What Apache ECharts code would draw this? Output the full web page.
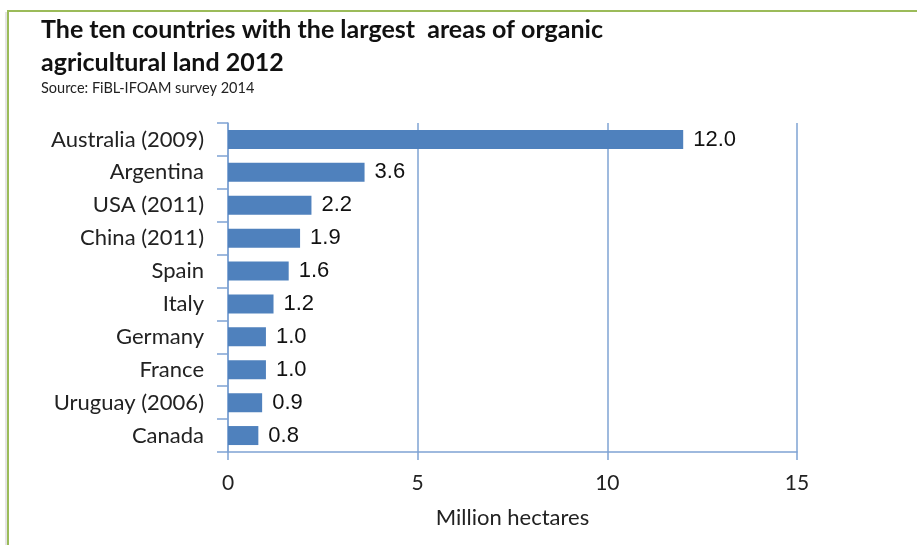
<!DOCTYPE html>
<html>
<head>
<meta charset="utf-8">
<script src="https://cdn.jsdelivr.net/npm/echarts@6/dist/echarts.min.js"></script>
<style>
html,body{margin:0;padding:0;background:#fff;}
#chart{width:917px;height:545px;}
</style>
</head>
<body>
<div id="chart"></div>
<script>
const categories = ["Australia (2009)", "Argentina", "USA (2011)", "China (2011)", "Spain", "Italy", "Germany", "France", "Uruguay (2006)", "Canada"];
const values = [12.0, 3.6, 2.2, 1.9, 1.6, 1.2, 1.0, 1.0, 0.9, 0.8];
const xTicks = [0, 5, 10, 15];
const titleText = "The ten countries with the largest  areas of organic\nagricultural land 2012";
const subText = "Source: FiBL-IFOAM survey 2014";
const axisName = "Million hectares";

const axisBlue = '#7fa3d3';
const chart = echarts.init(document.getElementById('chart'));
chart.setOption({
  animation: false,
  backgroundColor: '#fff',
  title: {
    text: titleText,
    subtext: subText,
    left: 36,
    top: 8,
    itemGap: 2,
    textStyle: { fontFamily: 'Lato', fontWeight: 'bold', fontSize: 25, color: '#111', lineHeight: 33 },
    subtextStyle: { fontFamily: 'Lato', fontSize: 14.5, color: '#222' }
  },
  graphic: [
    { type: 'line', shape: { x1: 7, y1: 11, x2: 917, y2: 11 }, style: { stroke: '#9bbb59', lineWidth: 2 } },
    { type: 'line', shape: { x1: 8, y1: 11, x2: 8, y2: 545 }, style: { stroke: '#9bbb59', lineWidth: 2 } },
    { type: 'line', shape: { x1: 6, y1: 12, x2: 6, y2: 545 }, style: { stroke: '#c8c8c8', lineWidth: 1 } }
  ],
  grid: { left: 228, right: 120, top: 123, bottom: 93, containLabel: false },
  xAxis: {
    type: 'value',
    min: xTicks[0],
    max: xTicks[xTicks.length - 1],
    interval: xTicks[1] - xTicks[0],
    name: axisName,
    nameLocation: 'middle',
    nameGap: 55,
    nameTextStyle: { fontFamily: 'Lato', fontSize: 22, color: '#222' },
    axisLine: { show: true, lineStyle: { color: axisBlue, width: 1.5 } },
    axisTick: { show: true, length: 8, lineStyle: { color: axisBlue, width: 1.5 } },
    axisLabel: { fontFamily: 'Lato', fontSize: 21, color: '#222', margin: 21 },
    splitLine: { show: true, lineStyle: { color: axisBlue, width: 1.5 } }
  },
  yAxis: {
    type: 'category',
    data: categories,
    inverse: true,
    axisLine: { show: true, lineStyle: { color: axisBlue, width: 1.5 } },
    axisTick: { show: true, length: 11, lineStyle: { color: axisBlue, width: 1.5 } },
    axisLabel: { fontFamily: 'Lato', fontSize: 22, color: '#222', margin: 24 },
    splitLine: { show: false }
  },
  series: [{
    type: 'bar',
    data: values,
    barWidth: 19,
    itemStyle: { color: '#4f81bd' },
    label: {
      show: true,
      position: 'right',
      distance: 10,
      fontFamily: 'Liberation Sans',
      fontSize: 22,
      color: '#111',
      formatter: p => p.value.toFixed(1)
    }
  }]
});
</script>
</body>
</html>
